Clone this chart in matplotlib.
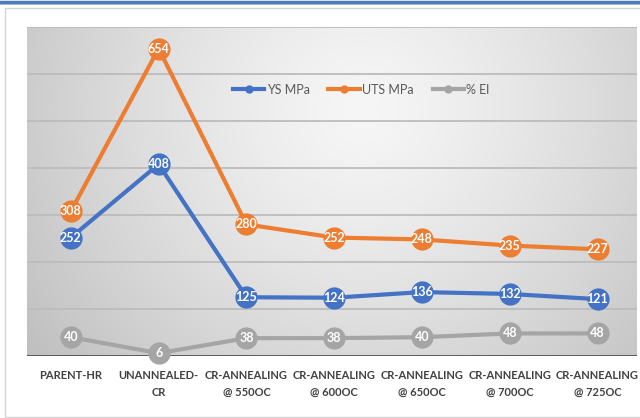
import matplotlib
matplotlib.use("Agg")
import matplotlib.pyplot as plt
import numpy as np
from matplotlib.patches import Rectangle
from matplotlib.lines import Line2D

categories = ["PARENT-HR", "UNANNEALED-\nCR", "CR-ANNEALING\n@ 550OC", "CR-ANNEALING\n@ 600OC",
              "CR-ANNEALING\n@ 650OC", "CR-ANNEALING\n@ 700OC", "CR-ANNEALING\n@ 725OC"]
ys_mpa = [252, 408, 125, 124, 136, 132, 121]
uts_mpa = [308, 654, 280, 252, 248, 235, 227]
el_pct = [40, 6, 38, 38, 40, 48, 48]
series_names = ["YS MPa", "UTS MPa", "% El"]
colors = ["#4472C4", "#ED7D31", "#A5A5A5"]

plt.rcParams['font.family'] = ['Lato', 'DejaVu Sans']

fig = plt.figure(figsize=(6.4, 4.18), dpi=100)
fig.patch.set_facecolor("white")

# outer frame and top blue line
fig.add_artist(Rectangle((5/640, 1/418), 1.0, (409/418), transform=fig.transFigure,
                         facecolor="white", edgecolor="#d4d4d4", linewidth=1.0, zorder=0))
fig.add_artist(Line2D([0, 1], [1 - 4/418, 1 - 4/418], transform=fig.transFigure,
                      color="#c8c8c8", linewidth=1.5, zorder=1))
fig.add_artist(Line2D([0, 1], [1 - 1.5/418, 1 - 1.5/418], transform=fig.transFigure,
                      color="#4a7ebb", linewidth=2.5, zorder=2))

ax = fig.add_axes([27/640, (418-356)/418, 610/640, 329/418])
ax.set_xlim(-0.5, 6.45)
ax.set_ylim(0, 700)

# gradient background
nx, ny = 300, 200
gx = np.linspace(0, 1, nx)
gy = np.linspace(0, 1, ny)
X, Y = np.meshgrid(gx, gy)
d = np.sqrt(((X - 0.55) / 0.72) ** 2 + ((Y - 0.75) / 1.3) ** 2)
val = 0.965 - 0.23 * np.clip(d, 0, 1) ** 1.3
img = np.dstack([val, val, val])
ax.imshow(img, extent=[0, 1, 0, 1], transform=ax.transAxes, origin="lower",
          aspect="auto", zorder=0, interpolation="bilinear")

for yv in range(100, 701, 100):
    ax.axhline(yv, color="#bcbcbc", linewidth=1.3, zorder=1)
ax.axhline(0, color="#505050", linewidth=2.0, zorder=2)

x = np.arange(len(categories))
for vals, c, name in zip([ys_mpa, uts_mpa, el_pct], colors, series_names):
    ax.plot(x, vals, color=c, linewidth=3, marker="o", markersize=16,
            markeredgewidth=0, zorder=3, label=name, clip_on=False)
    for xi, v in zip(x, vals):
        ax.text(xi, v, str(v), color="white", fontsize=9, fontweight="bold",
                ha="center", va="center", zorder=4)

for s in ax.spines.values():
    s.set_visible(False)
ax.set_yticks([])
ax.set_xticks(x)
ax.set_xticklabels(categories, fontsize=8, fontweight="bold", color="#404040", linespacing=1.7)
ax.tick_params(axis="x", length=0, pad=10)

handles = [Line2D([0], [0], color=c, linewidth=3, marker="o", markersize=5) for c in colors]
leg = ax.legend(handles, series_names, loc="center", bbox_to_anchor=(0.548, 0.81), ncol=3,
                frameon=False, fontsize=9, handlelength=2.5, columnspacing=1.5, handletextpad=0.2)
for t in leg.get_texts():
    t.set_color("#595959")

fig.savefig("out.png", dpi=100)
